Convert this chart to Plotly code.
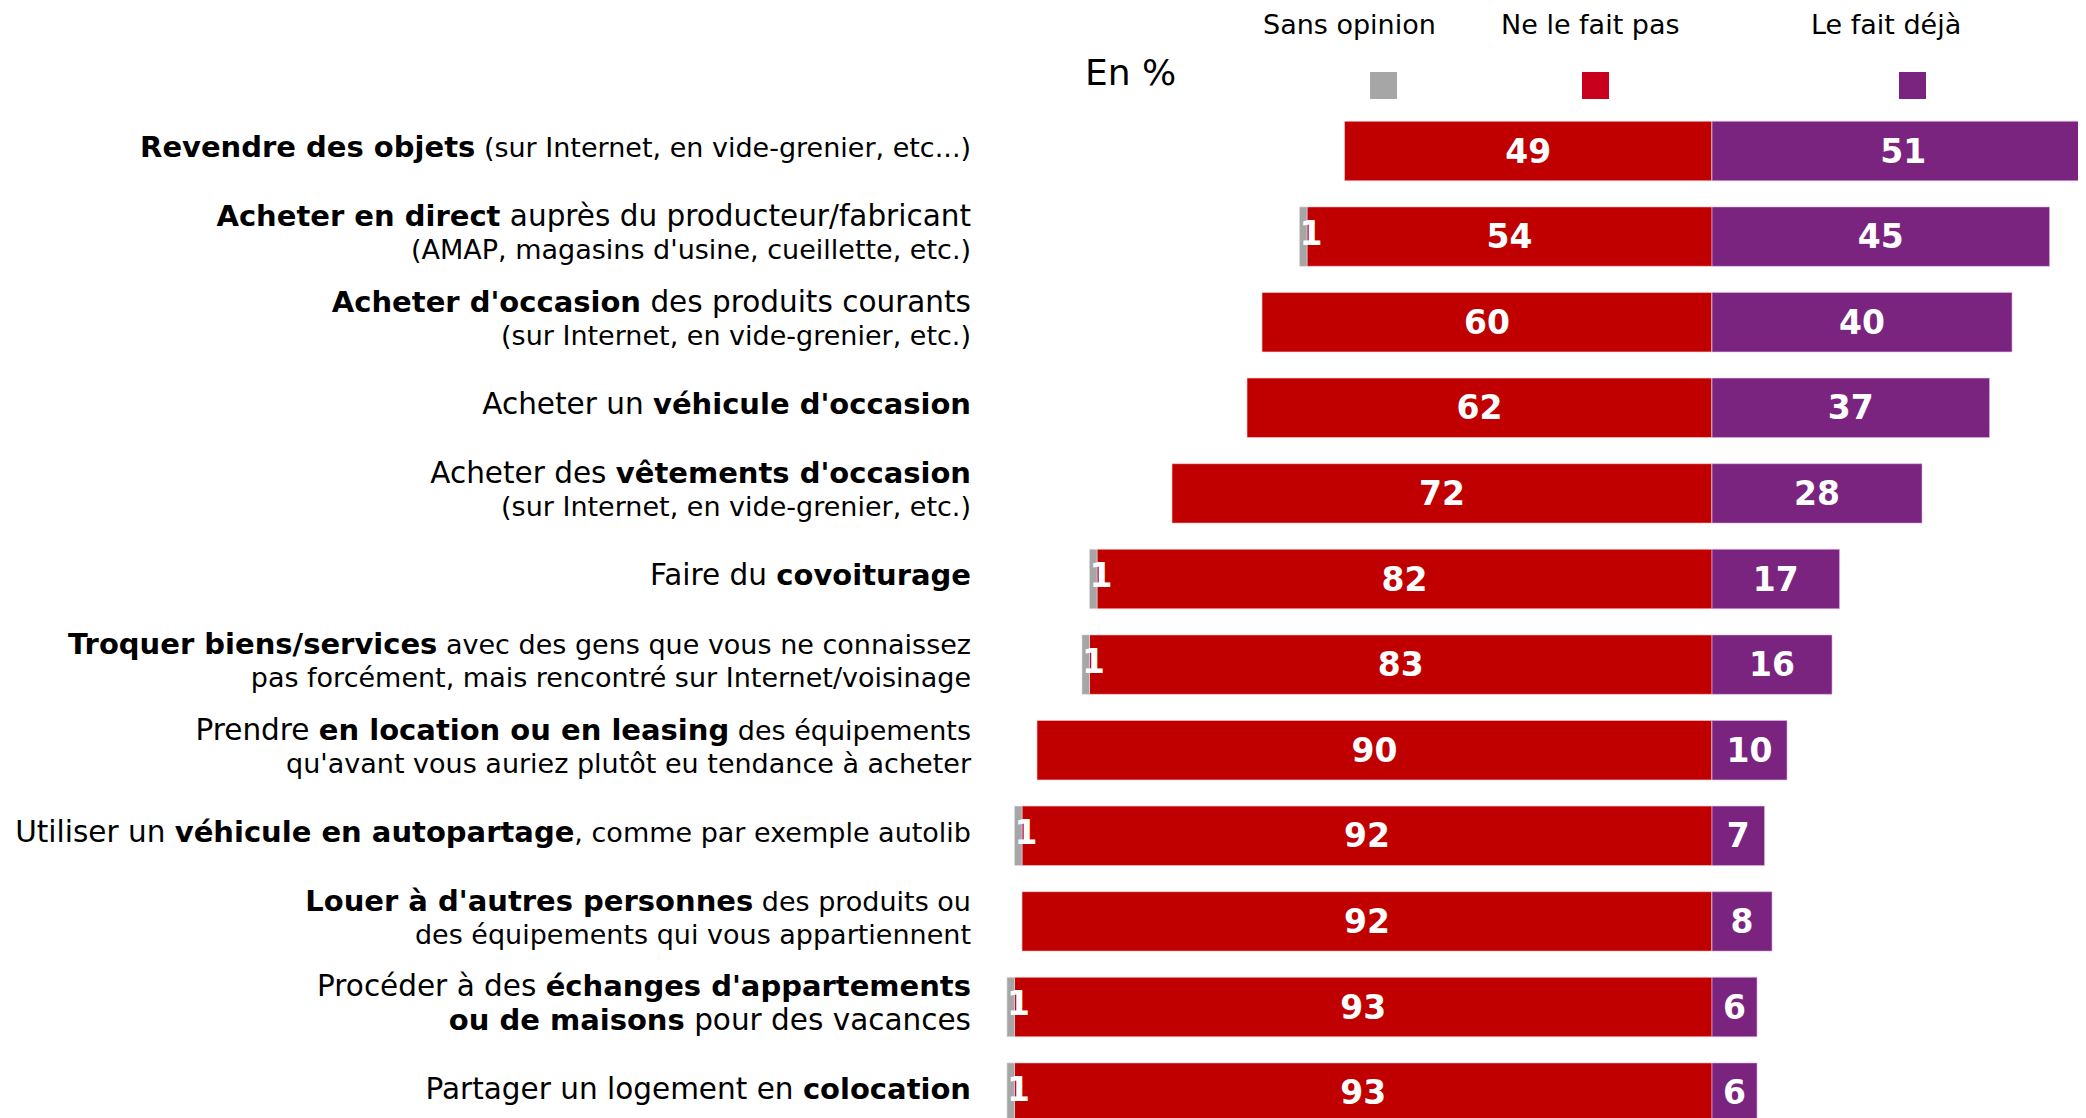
import plotly.graph_objects as go

# ---- data ----
M = "<span style='font-size:29.5px'>"   # regular text, main size
S = "<span style='font-size:27px'>"     # regular text, small size
B = "<span style='font-size:29px'><b>"  # bold text
RE = "</span>"
BE = "</b></span>"
labels = [
    B + "Revendre des objets" + BE + S + " (sur Internet, en vide-grenier, etc...)" + RE,
    B + "Acheter en direct" + BE + M + " auprès du producteur/fabricant" + RE + "<br>" + S + "(AMAP, magasins d'usine, cueillette, etc.)" + RE,
    B + "Acheter d'occasion" + BE + M + " des produits courants" + RE + "<br>" + S + "(sur Internet, en vide-grenier, etc.)" + RE,
    M + "Acheter un " + RE + B + "véhicule d'occasion" + BE,
    M + "Acheter des " + RE + B + "vêtements d'occasion" + BE + "<br>" + S + "(sur Internet, en vide-grenier, etc.)" + RE,
    M + "Faire du " + RE + B + "covoiturage" + BE,
    B + "Troquer biens/services" + BE + S + " avec des gens que vous ne connaissez" + RE + "<br>" + S + "pas forcément, mais rencontré sur Internet/voisinage" + RE,
    M + "Prendre " + RE + B + "en location ou en leasing" + BE + S + " des équipements" + RE + "<br>" + S + "qu'avant vous auriez plutôt eu tendance à acheter" + RE,
    M + "Utiliser un " + RE + B + "véhicule en autopartage" + BE + S + ", comme par exemple autolib" + RE,
    B + "Louer à d'autres personnes" + BE + S + " des produits ou" + RE + "<br>" + S + "des équipements qui vous appartiennent" + RE,
    M + "Procéder à des " + RE + B + "échanges d'appartements" + BE + "<br>" + B + "ou de maisons" + BE + M + " pour des vacances" + RE,
    M + "Partager un logement en " + RE + B + "colocation" + BE,
]
sans_opinion = [0, 1, 0, 0, 0, 1, 1, 0, 1, 0, 1, 1]
ne_le_fait_pas = [49, 54, 60, 62, 72, 82, 83, 90, 92, 92, 93, 93]
le_fait_deja = [51, 45, 40, 37, 28, 17, 16, 10, 7, 8, 6, 6]
series_names = ["Sans opinion", "Ne le fait pas", "Le fait déjà"]
unit_label = "En %"

GRAY = "#A6A6A6"
RED = "#C00000"
PURPLE = "#7A2480"
FONT = "DejaVu Sans"
VAL_FONT = dict(family=FONT, size=33, color="white", weight="bold")

ypos = list(range(len(labels)))

fig = go.Figure()
fig.add_trace(go.Bar(
    y=ypos, x=[-v for v in ne_le_fait_pas], orientation="h", name=series_names[1],
    marker=dict(color=RED, line=dict(color="rgba(255,200,200,0.6)", width=1)),
    text=[str(v) for v in ne_le_fait_pas], textposition="inside", insidetextanchor="middle",
    textangle=0, constraintext="none", textfont=VAL_FONT,
))
fig.add_trace(go.Bar(
    y=ypos, x=[-v for v in sans_opinion], orientation="h", name=series_names[0],
    marker=dict(color=GRAY, line=dict(color="rgba(220,220,220,0.6)", width=1)),
    textposition="none",
))
fig.add_trace(go.Bar(
    y=ypos, x=le_fait_deja, orientation="h", name=series_names[2],
    marker=dict(color=PURPLE, line=dict(color="rgba(220,180,230,0.6)", width=1)),
    text=[str(v) for v in le_fait_deja], textposition="inside", insidetextanchor="middle",
    textangle=0, constraintext="none", textfont=VAL_FONT,
))
# labels for the small "Sans opinion" segments
gy = [y for y, v in zip(ypos, sans_opinion) if v > 0]
gx = [-(r + g) for r, g in zip(ne_le_fait_pas, sans_opinion) if g > 0]
gt = [str(g) for g in sans_opinion if g > 0]
fig.add_trace(go.Scatter(
    y=gy, x=gx, mode="text", text=gt, textposition="middle right",
    textfont=VAL_FONT, showlegend=False, hoverinfo="skip", cliponaxis=False,
))

OFF = 8  # page body margin
W, H = 2140, 1118
L, T = 990 - OFF, 100 - OFF
pw, ph = W - L, H - T

def px(x):
    return (x - OFF - L) / pw

def py(y):
    return (H - (y - OFF)) / ph

fig.update_layout(
    width=W, height=H,
    margin=dict(l=L, r=0, t=T, b=0, autoexpand=False),
    barmode="relative", bargap=0.306,
    paper_bgcolor="white", plot_bgcolor="white",
    showlegend=False,
    font=dict(family=FONT, color="black"),
    xaxis=dict(range=[-96.27, 58.13], visible=False, fixedrange=True),
    yaxis=dict(
        range=[11.39, -0.596], tickvals=ypos, ticktext=labels,
        showgrid=False, zeroline=False, showline=False, ticks="",
        tickfont=dict(family=FONT, size=25.5, color="black"),
        ticklabelstandoff=18, ticklabelshift=3, automargin=False,
    ),
)

ann = [dict(text=unit_label, x=px(1130), y=py(73), size=36)]
leg_x = [1349, 1590, 1886]
for name, cx in zip(series_names, leg_x):
    ann.append(dict(text=name, x=px(cx), y=py(25), size=27))
for a in ann:
    fig.add_annotation(text=a["text"], x=a["x"], y=a["y"], xref="paper", yref="paper",
                       xanchor="center", yanchor="middle", showarrow=False,
                       font=dict(family=FONT, size=a["size"], color="black"))

squares = [(1370, 1397, GRAY), (1582, 1609, "#C8001E"), (1899, 1926, PURPLE)]
for x0, x1, c in squares:
    fig.add_shape(type="rect", xref="paper", yref="paper",
                  x0=px(x0), x1=px(x1), y0=py(99), y1=py(72),
                  fillcolor=c, line=dict(width=0))

fig.write_html("out.html")
